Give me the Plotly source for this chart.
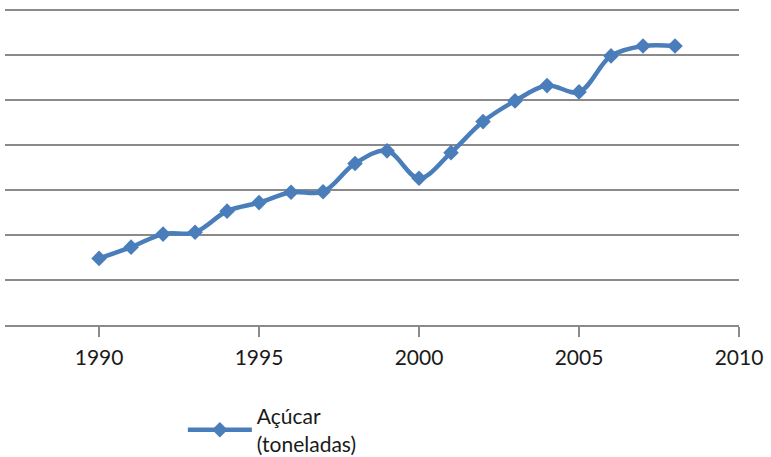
import plotly.graph_objects as go

years = [1990, 1991, 1992, 1993, 1994, 1995, 1996, 1997, 1998, 1999,
         2000, 2001, 2002, 2003, 2004, 2005, 2006, 2007, 2008]
acucar = [1.48, 1.73, 2.02, 2.06, 2.53, 2.72, 2.95, 2.96, 3.59, 3.87,
          3.26, 3.83, 4.52, 4.98, 5.32, 5.18, 5.98, 6.20, 6.20]
x_ticks = [1990, 1995, 2000, 2005, 2010]
y_grid = [1, 2, 3, 4, 5, 6, 7]
series_name = "Açúcar<br>(toneladas)"

color = "#4A7EBB"
grid = "#8A8A8A"

fig = go.Figure()
fig.add_trace(go.Scatter(
    x=years, y=acucar, name=series_name, mode="lines+markers",
    line=dict(color=color, width=4.5, shape="spline", smoothing=1),
    marker=dict(symbol="diamond", size=12, color=color),
    showlegend=True,
))

fig.update_layout(
    width=771, height=457,
    margin=dict(l=5, r=32, t=8, b=132, autoexpand=False),
    paper_bgcolor="white", plot_bgcolor="white",
    font=dict(family="Lato, Carlito, sans-serif", size=21, color="#1a1a1a"),
    showlegend=True,
    legend=dict(x=0.2423, y=-0.4385, xanchor="left", yanchor="bottom",
                orientation="h", itemwidth=64, valign="middle",
                font=dict(size=21), bgcolor="rgba(0,0,0,0)"),
    xaxis=dict(range=[1987.06, 2010], tickvals=x_ticks, automargin=False,
               showgrid=False, zeroline=False,
               showline=True, linecolor=grid, linewidth=1.5,
               ticks="outside", ticklen=10, tickcolor=grid, tickwidth=1.5,
               ticklabelstandoff=3),
    yaxis=dict(range=[0, 7.044], tickvals=y_grid,
               showticklabels=False, automargin=False,
               showgrid=True, gridcolor=grid, gridwidth=1.5,
               zeroline=False, showline=False, ticks=""),
)

fig.write_html("out.html",
               config={"displayModeBar": False},
               post_script="document.body.style.margin='0';")
